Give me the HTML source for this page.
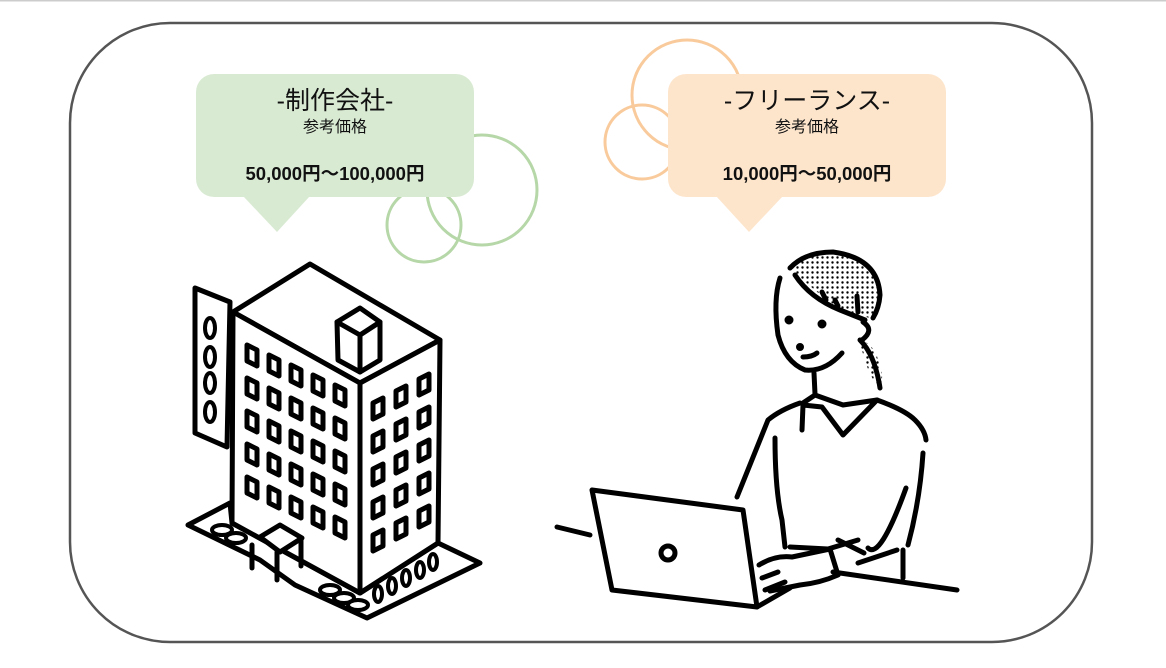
<!DOCTYPE html>
<html><head><meta charset="utf-8"><style>
html,body{margin:0;padding:0;background:#fff;width:1166px;height:668px;overflow:hidden}
svg{display:block}
text{font-family:"Liberation Sans","Noto Sans CJK JP",sans-serif;fill:#111}
</style></head><body>
<svg width="1166" height="668" viewBox="0 0 1166 668">
<defs>
<pattern id="dots" width="5" height="5" patternUnits="userSpaceOnUse"><circle cx="2.5" cy="2.5" r="1.2" fill="#000"/></pattern>
</defs>
<rect x="0" y="0" width="1166" height="1.5" fill="#ccc"/>
<rect x="70" y="23" width="1022" height="619" rx="100" fill="#fff" stroke="#555" stroke-width="2.5"/>
<g fill="none" stroke="#b6d7a8" stroke-width="3">
<circle cx="482" cy="190" r="55"/><circle cx="424" cy="225" r="37"/>
</g>
<g fill="none" stroke="#f9cb9c" stroke-width="3">
<circle cx="687" cy="95" r="55"/><circle cx="642" cy="142" r="37"/>
</g>
<rect x="196" y="74" width="278" height="123" rx="18" fill="#d9ead3"/>
<polygon points="243,196 310,196 277,232" fill="#d9ead3"/>
<rect x="668" y="74" width="278" height="123" rx="18" fill="#fde5cc"/>
<polygon points="716,196 783,196 749,232" fill="#fde5cc"/>
<text x="335" y="109" font-size="25" text-anchor="middle">-制作会社-</text>
<text x="335" y="132" font-size="16" text-anchor="middle">参考価格</text>
<text x="335" y="180" font-size="18.5" font-weight="bold" text-anchor="middle">50,000円～100,000円</text>
<text x="807" y="109" font-size="25" text-anchor="middle">-フリーランス-</text>
<text x="807" y="132" font-size="16" text-anchor="middle">参考価格</text>
<text x="807" y="180" font-size="18.5" font-weight="bold" text-anchor="middle">10,000円～50,000円</text>

<g fill="#fff" stroke="#000" stroke-width="5" stroke-linejoin="round" stroke-linecap="round">
<polygon points="188,525 230,503 232,523 360,593 438,543 480,563 367,618 295,585 260,560 188,525"/>
<polygon points="233,312 310,264 440,340 360,383"/>
<polygon points="233,312 360,383 360,593 232,523"/>
<polygon points="360,383 440,340 438,543 360,593"/>
<polygon points="195,288 230,302 227,447 195,433"/>
<line x1="203" y1="290" x2="227" y2="300" stroke-width="2"/>
<g stroke-width="4">
<ellipse cx="210" cy="328" rx="5" ry="10"/><ellipse cx="210" cy="357" rx="5" ry="10"/>
<ellipse cx="210" cy="383" rx="5" ry="10"/><ellipse cx="210" cy="412" rx="5" ry="10"/>
</g>
<polygon points="337,322 360,308 380,322 380,360 360,372 338,360"/>
<polyline points="337,322 360,335 380,322" fill="none"/>
<line x1="360" y1="335" x2="360" y2="372"/>
<polygon points="260,537 280,525 302,538 280,552"/>
<line x1="252" y1="545" x2="252" y2="568"/><line x1="277" y1="552" x2="277" y2="580"/><line x1="301" y1="540" x2="301" y2="566"/>
<g stroke-width="4">
<ellipse cx="222" cy="530" rx="10" ry="5"/><ellipse cx="236" cy="538" rx="10" ry="5"/>
<ellipse cx="330" cy="590" rx="10" ry="5"/><ellipse cx="344" cy="598" rx="10" ry="5"/><ellipse cx="358" cy="605" rx="10" ry="5"/>
<ellipse cx="378" cy="594" rx="4" ry="8"/><ellipse cx="392" cy="586" rx="4" ry="8"/><ellipse cx="406" cy="578" rx="4" ry="8"/><ellipse cx="420" cy="570" rx="4" ry="8"/><ellipse cx="433" cy="562" rx="4" ry="8"/>
</g>
</g>
<g fill="#fff" stroke="#000" stroke-width="5" stroke-linejoin="round">
<g id="lw">
<polygon points="247,345 257,350 257,366 247,361"/><polygon points="269,355 279,360 279,376 269,371"/><polygon points="291,365 301,370 301,386 291,381"/><polygon points="313,375 323,380 323,396 313,391"/><polygon points="335,385 345,390 345,406 335,401"/>
</g>
<use href="#lw" y="33"/><use href="#lw" y="66"/><use href="#lw" y="99"/><use href="#lw" y="132"/>
<g id="rw">
<polygon points="373,403 383,398 383,414 373,419"/><polygon points="396,391 406,386 406,402 396,407"/><polygon points="419,379 429,374 429,390 419,395"/>
</g>
<use href="#rw" y="33"/><use href="#rw" y="66"/><use href="#rw" y="99"/><use href="#rw" y="132"/>
</g>

<g fill="none" stroke="#000" stroke-width="5" stroke-linecap="round" stroke-linejoin="round">
<path d="M790,268 Q805,252 833,252 Q878,258 880,295 Q879,312 870,318 Q842,312 822,296 Q805,282 790,268 Z" fill="url(#dots)" stroke="none"/>
<path d="M858,338 Q875,345 878,360 Q885,375 880,388 Q870,378 865,360 Z" fill="url(#dots)" stroke="none"/>
<path d="M780,278 Q773,300 778,335 Q785,362 805,370 Q825,372 842,353"/>
<path d="M790,268 Q805,252 833,252 Q878,258 880,295 Q879,308 873,318"/>
<path d="M795,275 Q810,298 840,310 Q855,316 865,320"/>
<path d="M863,322 Q875,330 862,340"/>
<path d="M860,340 Q875,355 880,388"/>
<line x1="822" y1="292" x2="826" y2="300"/><line x1="835" y1="300" x2="838" y2="306"/><line x1="857" y1="296" x2="858" y2="312"/>
<circle cx="789" cy="320" r="2" fill="#000"/><circle cx="822" cy="324" r="2" fill="#000"/><circle cx="800" cy="347" r="1.5" fill="#000"/>
<path d="M803,357 Q812,357 817,353"/>
<line x1="814" y1="373" x2="815" y2="394"/>
<path d="M803,403 L815,395 L843,405 L877,400"/>
<polyline points="802,430 803,405 822,407 843,435 877,400"/>
<path d="M800,403 Q780,410 768,420 Q760,440 737,497"/>
<path d="M877,400 Q905,410 915,420 Q925,430 926,440"/>
<path d="M923,453 Q920,500 908,545"/>
<path d="M906,488 Q880,560 868,548"/>
<path d="M775,438 Q775,490 782,520 L785,547"/>
<path d="M790,547 L828,549 L858,540"/>
<path d="M838,540 L864,553 M858,563 L897,550"/>
<line x1="903" y1="550" x2="903" y2="578"/>
<path d="M759,565 Q775,555 792,557 L830,549 L838,575 Q820,583 800,585 L770,591"/>
<path d="M762,578 L778,572 M765,590 L785,582"/>
<polygon points="592,490 743,510 757,607 612,590" fill="#fff"/>
<circle cx="668" cy="553" r="7"/>
<path d="M757,607 L790,588"/>
<line x1="557" y1="527" x2="590" y2="535"/>
<line x1="833" y1="572" x2="957" y2="590"/>
</g>
</svg>
</body></html>
